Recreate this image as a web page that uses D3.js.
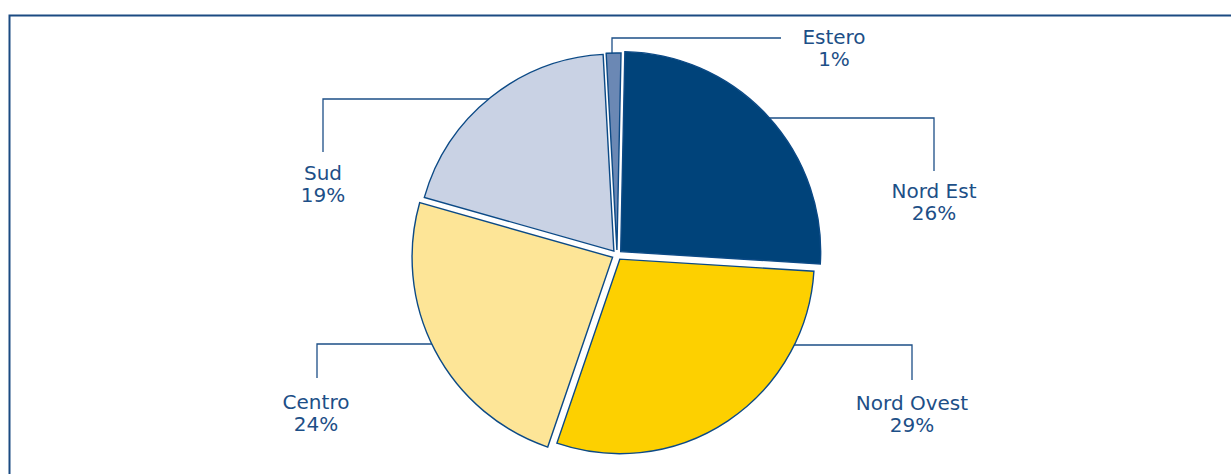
<!DOCTYPE html>
<html>
<head>
<meta charset="utf-8">
<script src="https://cdn.jsdelivr.net/npm/d3@7"></script>
<style>
  html, body { margin: 0; padding: 0; background: #ffffff; }
  svg { display: block; }
  text { font-family: "DejaVu Sans", sans-serif; fill: #1d4f87; }
</style>
</head>
<body>
<svg id="chart" width="1231" height="474"></svg>
<script>
// ---- data ----
const categories = ["Nord Est", "Nord Ovest", "Centro", "Sud", "Estero"];
const values = [25.6, 29.2, 24.1, 19.7, 1.2];
const percentLabels = ["26%", "29%", "24%", "19%", "1%"];
const colors = ["#00437a", "#fdd000", "#fde597", "#c9d2e4", "#6b88b4"];

// ---- layout / style ----
const cx = 617, cy = 255;
const sliceRadius = [200, 194.5, 200.5, 197, 197];  // drawn radius of each slice
const explode = 5;
const startDeg = 1.2;

const svg = d3.select("#chart");

// frame
svg.append("rect")
  .attr("x", 9.5).attr("y", 15.5)
  .attr("width", 1400).attr("height", 700)
  .attr("fill", "none").attr("stroke", "#1b4b82").attr("stroke-width", 2);

const pie = d3.pie().sort(null).value(d => d)
  .startAngle(startDeg * Math.PI / 180)
  .endAngle((startDeg + 360) * Math.PI / 180);
const arcs = pie(values);
const arcGen = d3.arc().innerRadius(0).outerRadius((d, i) => sliceRadius[i]);

// label annotation layout (leader line elbow + text centre)
const labelLayout = [
  { lx: 934, ly: 118, tx: 934, ty: 198, inner: 700, vEnd: 171 },   // Nord Est
  { lx: 912, ly: 345, tx: 912, ty: 410, inner: 720, vEnd: 380 },   // Nord Ovest
  { lx: 317, ly: 344, tx: 316, ty: 409, inner: 480, vEnd: 378 },   // Centro
  { lx: 323, ly: 99,  tx: 323, ty: 180, inner: 520, vEnd: 152 },   // Sud
  { lx: 612, ly: 38,  tx: 834, ty: 44,  inner: 781, vEnd: 70 }     // Estero
];

const leaders = svg.append("g")
  .attr("fill", "none").attr("stroke", "#1d4f87").attr("stroke-width", 1.3);

labelLayout.forEach((L, i) => {
  if (i === 4) {
    leaders.append("path")
      .attr("d", `M${L.lx},${L.vEnd} V${L.ly} H${L.inner}`);
  } else {
    leaders.append("path")
      .attr("d", `M${L.inner},${L.ly} H${L.lx} V${L.vEnd}`);
  }
});

// pie slices (drawn over the leader ends)
const g = svg.append("g").attr("transform", `translate(${cx},${cy})`);

g.selectAll("path.slice")
  .data(arcs)
  .join("path")
  .attr("class", "slice")
  .attr("d", (d, i) => arcGen(d, i))
  .attr("transform", d => {
    const mid = (d.startAngle + d.endAngle) / 2;
    return `translate(${explode * Math.sin(mid)},${-explode * Math.cos(mid)})`;
  })
  .attr("fill", (d, i) => colors[i])
  .attr("stroke", "#0c4a86")
  .attr("stroke-width", 1.4)
  .attr("stroke-linejoin", "miter");

// labels
const labels = svg.append("g").attr("text-anchor", "middle").attr("font-size", 20);
labelLayout.forEach((L, i) => {
  const t = labels.append("text").attr("x", L.tx).attr("y", L.ty);
  t.append("tspan").attr("x", L.tx).attr("y", L.ty).text(categories[i]);
  t.append("tspan").attr("x", L.tx).attr("y", L.ty + 22).text(percentLabels[i]);
});
</script>
</body>
</html>
